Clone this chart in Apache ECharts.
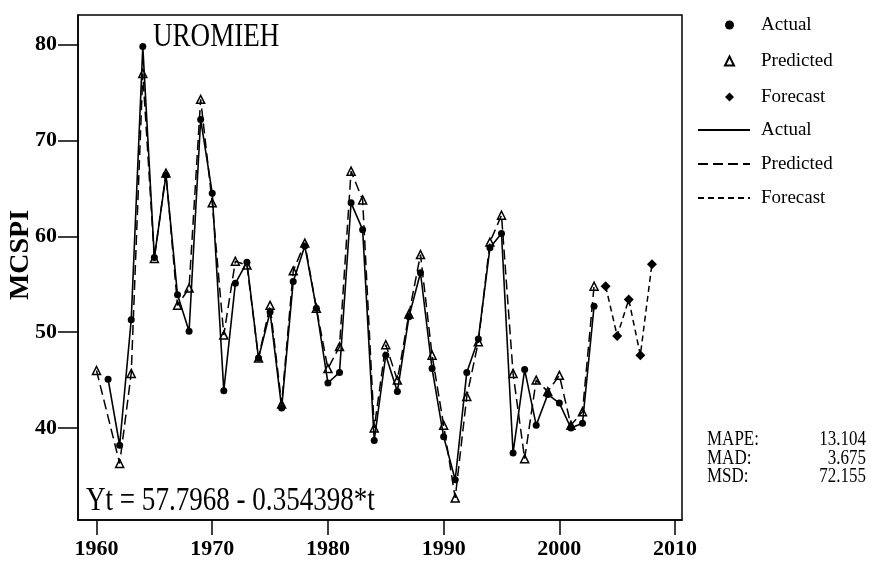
<!DOCTYPE html>
<html>
<head>
<meta charset="utf-8">
<script src="https://cdn.jsdelivr.net/npm/echarts@6/dist/echarts.min.js"></script>
<style>
html, body { margin: 0; background: #fff; }
#chart { width: 871px; height: 566px; }
</style>
</head>
<body>
<div id="chart"></div>
<script>
(function(window) {
    'use strict';

    // 年份 1960 - 2003
    var years = [];
    for (var y = 1960; y <= 2003; y++) {
        years.push(y);
    }
    var actual = [null, 45.1, 38.2, 51.3, 79.8, 57.8, 66.4, 53.9, 50.1, 72.2,
        64.5, 43.9, 55.1, 57.3, 47.3, 52.1, 42.1, 55.3, 59.0, 52.5,
        44.7, 45.8, 63.5, 60.7, 38.7, 47.6, 43.8, 51.6, 56.2, 46.2,
        39.1, 34.6, 45.8, 49.3, 58.8, 60.3, 37.4, 46.1, 40.3, 43.5,
        42.6, 40.0, 40.5, 52.7];
    var predicted = [46.0, null, 36.3, 45.7, 77.0, 57.7, 66.6, 52.8, 54.6, 74.3,
        63.5, 49.7, 57.4, 57.0, 47.3, 52.8, 42.5, 56.4, 59.3, 52.5,
        46.2, 48.5, 66.8, 63.8, 40.0, 48.7, 45.0, 51.9, 58.1, 47.6,
        40.3, 32.7, 43.3, 49.0, 59.4, 62.2, 45.7, 36.8, 45.0, 43.8,
        45.5, 40.3, 41.7, 54.8];
    var forecastYears = [2004, 2005, 2006, 2007, 2008];
    var forecast = [54.8, 49.6, 53.4, 47.6, 57.1];

    var xTicks = [1960, 1970, 1980, 1990, 2000, 2010];
    var yTicks = [40, 50, 60, 70, 80];

    var stats = [['MAPE:', '13.104'], ['MAD:', '3.675'], ['MSD:', '72.155']];

    var serif = 'Liberation Serif';

    function pairs(xs, vs) {
        var out = [];
        xs.forEach(function(x, i) {
            if (vs[i] !== null) {
                out.push([x, vs[i]]);
            }
        });
        return out;
    }

    var actualData = pairs(years, actual);
    var predictedData = pairs(years, predicted);
    var forecastData = pairs(forecastYears, forecast);

    var chart = echarts.init(document.getElementById('chart'));

    var graphics = [{
        type: 'text',
        x: 153, y: 37, scaleX: 0.82,
        style: { text: 'UROMIEH', font: '33px "' + serif + '"', fill: '#000', verticalAlign: 'middle' }
    }, {
        type: 'text',
        x: 86, y: 501, scaleX: 0.82,
        style: { text: 'Yt = 57.7968 - 0.354398*t', font: '33px "' + serif + '"', fill: '#000', verticalAlign: 'middle' }
    }, {
        type: 'text',
        x: 21, y: 255, rotation: Math.PI / 2,
        style: { text: 'MCSPI', font: 'bold 28px "' + serif + '"', fill: '#000', align: 'center', verticalAlign: 'middle' }
    }];
    stats.forEach(function(row, i) {
        graphics.push({
            type: 'text', x: 707, y: 440 + i * 18.5, scaleX: 0.85,
            style: { text: row[0], font: '20px "' + serif + '"', fill: '#000', verticalAlign: 'middle' }
        });
        graphics.push({
            type: 'text', x: 866, y: 440 + i * 18.5, scaleX: 0.85,
            style: { text: row[1], font: '20px "' + serif + '"', fill: '#000', align: 'right', verticalAlign: 'middle' }
        });
    });

    var legendText = { fontFamily: serif, fontSize: 19, lineHeight: 20, color: '#000' };

    var option = {
        animation: false,
        backgroundColor: '#fff',
        textStyle: { fontFamily: serif, color: '#000' },
        grid: {
            left: 78, top: 15, right: 189, bottom: 46,
            show: true, borderColor: '#000', borderWidth: 1.5
        },
        legend: [{
            orient: 'vertical', left: 724, top: 15, padding: 0,
            itemWidth: 9, itemHeight: 9, itemGap: 16,
            selectedMode: false,
            textStyle: Object.assign({ padding: [0, 0, 0, 22] }, legendText),
            data: ['Actual', 'Predicted', 'Forecast']
        }, {
            orient: 'vertical', left: 697, top: 120, padding: 0,
            itemWidth: 52, itemHeight: 14, itemGap: 14,
            selectedMode: false,
            itemStyle: { opacity: 0 },
            textStyle: Object.assign({ padding: [0, 0, 0, 6] }, legendText),
            data: ['Actual ', 'Predicted ', 'Forecast ']
        }],
        xAxis: {
            type: 'value', min: 1958.4, max: 2010.6,
            splitLine: { show: false },
            axisLine: { lineStyle: { color: '#000', width: 1.5 } },
            axisTick: { customValues: xTicks, length: 15, lineStyle: { color: '#000', width: 1.5 } },
            axisLabel: {
                customValues: xTicks, margin: 18, color: '#000',
                fontFamily: serif, fontSize: 22, fontWeight: 'bold',
                formatter: function(v) { return String(v); }
            }
        },
        yAxis: {
            type: 'value', min: 30.4, max: 83.1,
            splitLine: { show: false },
            axisLine: { lineStyle: { color: '#000', width: 1.5 } },
            axisTick: { customValues: yTicks, length: 20, lineStyle: { color: '#000', width: 1.5 } },
            axisLabel: {
                customValues: yTicks, margin: 21, color: '#000',
                fontFamily: serif, fontSize: 22, fontWeight: 'bold'
            }
        },
        graphic: graphics,
        series: [{
            name: 'Actual ', type: 'line', data: actualData, symbol: 'none',
            lineStyle: { color: '#000', width: 1.6 }, itemStyle: { color: '#000' }
        }, {
            name: 'Predicted ', type: 'line', data: predictedData, symbol: 'none',
            lineStyle: { color: '#000', width: 1.5, type: [10, 5] }, itemStyle: { color: '#000' }
        }, {
            name: 'Forecast ', type: 'line', data: forecastData, symbol: 'none',
            lineStyle: { color: '#000', width: 1.5, type: [6, 4] }, itemStyle: { color: '#000' }
        }, {
            name: 'Predicted', type: 'scatter', data: predictedData, symbol: 'triangle', symbolSize: 8,
            itemStyle: { color: '#fff', borderColor: '#000', borderWidth: 1.5, opacity: 1 }
        }, {
            name: 'Actual', type: 'scatter', data: actualData, symbol: 'circle', symbolSize: 7,
            itemStyle: { color: '#000', opacity: 1 }
        }, {
            name: 'Forecast', type: 'scatter', data: forecastData, symbol: 'diamond', symbolSize: 10,
            itemStyle: { color: '#000', opacity: 1 }
        }]
    };

    chart.setOption(option);
})(window);
</script>
</body>
</html>
